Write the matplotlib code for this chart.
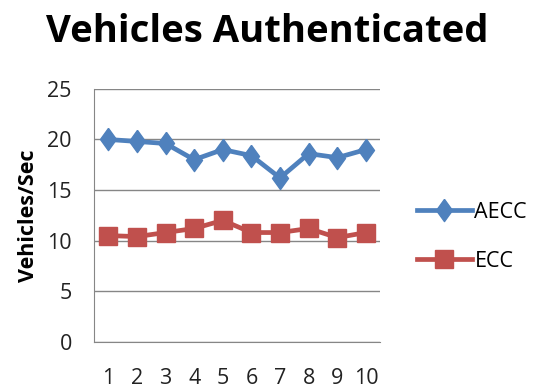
import matplotlib
matplotlib.use('Agg')
import matplotlib.pyplot as plt

plt.rcParams['font.family'] = ['Open Sans', 'DejaVu Sans']

runs = [1, 2, 3, 4, 5, 6, 7, 8, 9, 10]
aecc = [20.0, 19.8, 19.6, 18.0, 19.0, 18.4, 16.2, 18.6, 18.2, 19.0]
ecc = [10.5, 10.4, 10.8, 11.2, 12.0, 10.8, 10.8, 11.2, 10.3, 10.8]

# tall diamond like the excel marker
diamond = [(0, 1), (0.72, 0), (0, -1), (-0.72, 0), (0, 1)]

fig = plt.figure(figsize=(5.34, 3.88), dpi=100)
ax = fig.add_axes([0.176, 0.119, 0.536, 0.652])

ax.plot(runs, aecc, color='#4F81BD', lw=3.4, marker=diamond, ms=16, label='AECC')
ax.plot(runs, ecc, color='#C0504D', lw=3.4, marker='s', ms=12.5, label='ECC')

ax.set_xlim(0.5, 10.5)
ax.set_ylim(0, 25)
ax.set_yticks([0, 5, 10, 15, 20, 25])
ax.set_xticks(runs)
ax.yaxis.grid(True, color='#868686', lw=1)
ax.set_axisbelow(True)
for s in ['top', 'right']:
    ax.spines[s].set_visible(False)
for s in ['left', 'bottom']:
    ax.spines[s].set_color('#868686')
ax.tick_params(length=0, labelsize=15.5, colors='#222222')
ax.tick_params(axis='x', pad=19)
ax.tick_params(axis='y', pad=16)

ax.set_ylabel('Vehicles/Sec', fontsize=15.5, fontweight='bold', labelpad=6)
fig.text(0.5, 0.918, 'Vehicles Authenticated', fontsize=27.5, fontweight='bold',
         ha='center', va='center')

ax.legend(loc='center left', bbox_to_anchor=(417 / 534, 1 - 237 / 388),
          bbox_transform=fig.transFigure, frameon=False, borderpad=0,
          borderaxespad=0, fontsize=15.5, handlelength=2.55,
          handletextpad=0.12, labelspacing=1.3)

plt.savefig('out.png')
